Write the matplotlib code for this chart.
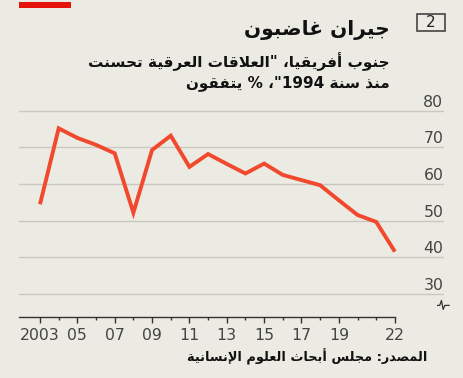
import re
import matplotlib
matplotlib.use('Agg')
import matplotlib.pyplot as plt
from matplotlib.patches import Rectangle

# Data
years = [2003, 2004, 2005, 2006, 2007, 2008, 2009, 2010, 2011, 2012,
         2013, 2014, 2015, 2016, 2017, 2018, 2019, 2020, 2021, 2022]
agree = [54.5, 75.2, 72.6, 70.7, 68.4, 52.2, 69.3, 73.2, 64.7, 68.2,
         65.5, 62.9, 65.6, 62.5, 61.1, 59.7, 55.6, 51.6, 49.7, 41.6]
major_years = [2003, 2005, 2007, 2009, 2011, 2013, 2015, 2017, 2019, 2022]
major_labels = ['2003', '05', '07', '09', '11', '13', '15', '17', '19', '22']
y_grid = [30, 40, 50, 60, 70, 80]

title = 'جيران غاضبون'
subtitle1 = 'جنوب أفريقيا، "العلاقات العرقية تحسنت'
subtitle2 = 'منذ سنة 1994"، % يتفقون'
source = 'المصدر: مجلس أبحاث العلوم الإنسانية'

# matplotlib has no Arabic shaping, so use presentation forms + reverse
FORMS = {
    '\u0621': (0xFE80, 1), '\u0622': (0xFE81, 2), '\u0623': (0xFE83, 2), '\u0624': (0xFE85, 2),
    '\u0625': (0xFE87, 2), '\u0626': (0xFE89, 4), '\u0627': (0xFE8D, 2), '\u0628': (0xFE8F, 4),
    '\u0629': (0xFE93, 2), '\u062A': (0xFE95, 4), '\u062B': (0xFE99, 4), '\u062C': (0xFE9D, 4),
    '\u062D': (0xFEA1, 4), '\u062E': (0xFEA5, 4), '\u062F': (0xFEA9, 2), '\u0630': (0xFEAB, 2),
    '\u0631': (0xFEAD, 2), '\u0632': (0xFEAF, 2), '\u0633': (0xFEB1, 4), '\u0634': (0xFEB5, 4),
    '\u0635': (0xFEB9, 4), '\u0636': (0xFEBD, 4), '\u0637': (0xFEC1, 4), '\u0638': (0xFEC5, 4),
    '\u0639': (0xFEC9, 4), '\u063A': (0xFECD, 4), '\u0641': (0xFED1, 4), '\u0642': (0xFED5, 4),
    '\u0643': (0xFED9, 4), '\u0644': (0xFEDD, 4), '\u0645': (0xFEE1, 4), '\u0646': (0xFEE5, 4),
    '\u0647': (0xFEE9, 4), '\u0648': (0xFEED, 2), '\u0649': (0xFEEF, 2), '\u064A': (0xFEF1, 4),
}
LAM_ALEF = {'\u0622': 0xFEF5, '\u0623': 0xFEF7, '\u0625': 0xFEF9, '\u0627': 0xFEFB}


def shape(s):
    out = []
    i = 0
    prev_joins = False
    while i < len(s):
        c = s[i]
        if c not in FORMS:
            out.append(c)
            prev_joins = False
            i += 1
            continue
        if c == '\u0644' and i + 1 < len(s) and s[i + 1] in LAM_ALEF:
            out.append(chr(LAM_ALEF[s[i + 1]] + (1 if prev_joins else 0)))
            prev_joins = False
            i += 2
            continue
        base, k = FORMS[c]
        nxt = s[i + 1] if i + 1 < len(s) else ''
        joins_next = k == 4 and nxt in FORMS
        if k == 1:
            form = 0
        elif prev_joins and joins_next:
            form = 3
        elif prev_joins:
            form = 1
        elif joins_next:
            form = 2
        else:
            form = 0
        out.append(chr(base + form))
        prev_joins = k == 4
        i += 1
    return ''.join(out)


def ar(s):
    parts = re.findall(r'[0-9]+|[^0-9]+', shape(s))
    return ''.join(p if p[0].isdigit() else p[::-1] for p in reversed(parts))


bg = '#ECEBE3'
W, H = 463, 378
fig = plt.figure(figsize=(W / 100, H / 100), dpi=100, facecolor=bg)


def fx(x):
    return x / W


def fy(y):
    return 1 - y / H


# plot area
x_left, x_right = 2001.876, 2024.63
y_bottom, y_top = 23.7, 85
ax = fig.add_axes([fx(19), fy(317.3), fx(444) - fx(19), fy(92.4) - fy(317.3)])
ax.set_facecolor(bg)
ax.set_xlim(x_left, x_right)
ax.set_ylim(y_bottom, y_top)

for v in y_grid:
    ax.axhline(v, color='#C9C8BF', lw=1, zorder=1)
    ax.annotate(str(v), xy=(1.0, v), xycoords=ax.get_yaxis_transform(),
                xytext=(-0.5, 3), textcoords='offset points', ha='right', va='baseline',
                fontsize=11.3, color='#444444', family='DejaVu Sans')

ax.plot(years, agree, color='#F0492E', lw=2.8, solid_joinstyle='miter',
        solid_capstyle='butt', zorder=3)

for s in ['top', 'right', 'left']:
    ax.spines[s].set_visible(False)
ax.spines['bottom'].set_bounds(x_left, 2022)
ax.spines['bottom'].set_color('#333333')
ax.spines['bottom'].set_linewidth(1)
ax.set_yticks([])
ax.set_xticks(major_years)
ax.set_xticklabels(major_labels)
ax.set_xticks([y for y in years if y not in major_years], minor=True)
ax.tick_params(axis='x', which='major', length=4.3, width=1, color='#333333',
               labelsize=11.3, labelcolor='#444444', pad=3.5)
ax.tick_params(axis='x', which='minor', length=2.5, width=1, color='#333333')
for lab in ax.get_xticklabels():
    lab.set_family('DejaVu Sans')

# axis break symbol
ax.plot([0.985, 0.99, 0.994, 0.998, 1.002, 1.006, 1.012],
        [0.053, 0.053, 0.075, 0.035, 0.053, 0.053, 0.053],
        transform=ax.transAxes, color='#333333', lw=0.9, clip_on=False)

# header
fig.patches.append(Rectangle((fx(19), fy(8)), fx(71) - fx(19), fy(2) - fy(8),
                             transform=fig.transFigure, color='#E3120B', lw=0))
fig.patches.append(Rectangle((fx(417), fy(31)), fx(445) - fx(417), fy(14) - fy(31),
                             transform=fig.transFigure, fill=False, ec='#444444', lw=1.2))
fig.text(fx(431), fy(22.5), '2', ha='center', va='center', fontsize=11,
         color='#222222', family='DejaVu Sans')

fig.text(fx(390), fy(30), ar(title), ha='right', va='center', fontsize=14.5,
         fontweight='bold', family='DejaVu Sans', color='#111111')
fig.text(fx(390), fy(62), ar(subtitle1), ha='right', va='center', fontsize=11,
         fontweight='bold', family='DejaVu Sans', color='#111111')
fig.text(fx(390), fy(83), ar(subtitle2), ha='right', va='center', fontsize=11,
         fontweight='bold', family='DejaVu Sans', color='#111111')
fig.text(fx(427), fy(357), ar(source), ha='right', va='center', fontsize=9.3,
         fontweight='bold', family='DejaVu Sans', color='#111111')

fig.savefig('out.png', dpi=100, facecolor=bg)
